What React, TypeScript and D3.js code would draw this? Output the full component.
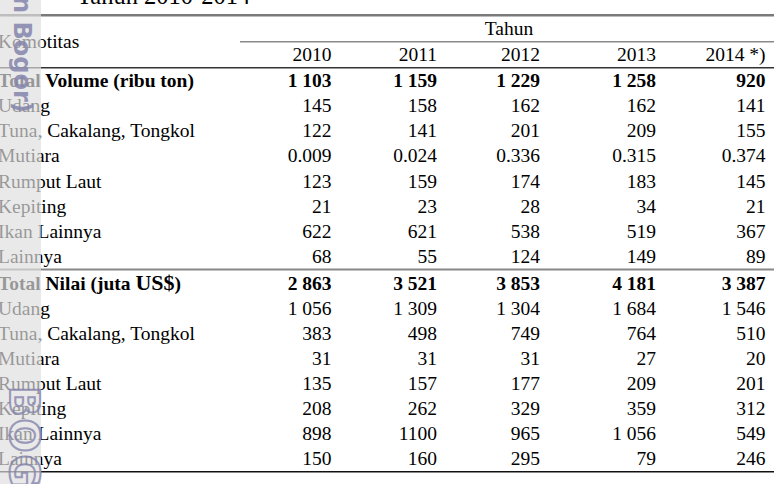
import React from "react";
import * as d3 from "d3";

const years = ["2010", "2011", "2012", "2013", "2014 *)"];
const commodities = ["Udang", "Tuna, Cakalang, Tongkol", "Mutiara", "Rumput Laut", "Kepiting", "Ikan Lainnya", "Lainnya"];

const totalVolume = [1103, 1159, 1229, 1258, 920];
const volUdang = [145, 158, 162, 162, 141];
const volTuna = [122, 141, 201, 209, 155];
const volMutiara = [0.009, 0.024, 0.336, 0.315, 0.374];
const volRumputLaut = [123, 159, 174, 183, 145];
const volKepiting = [21, 23, 28, 34, 21];
const volIkanLainnya = [622, 621, 538, 519, 367];
const volLainnya = [68, 55, 124, 149, 89];

const totalNilai = [2863, 3521, 3853, 4181, 3387];
const nilUdang = [1056, 1309, 1304, 1684, 1546];
const nilTuna = [383, 498, 749, 764, 510];
const nilMutiara = [31, 31, 31, 27, 20];
const nilRumputLaut = [135, 157, 177, 209, 201];
const nilKepiting = [208, 262, 329, 359, 312];
const nilIkanLainnya = [898, 1100, 965, 1056, 549];
const nilLainnya = [150, 160, 295, 79, 246];

// cells printed without thousands separator in the source
const ungroupedCells = ["nil-5-1"];

const W = 774;
const H = 484;
const FONT = "'Liberation Serif', 'Times New Roman', serif";
const FS = 19.5;

const locale = d3.formatLocale({ decimal: ".", thousands: " ", grouping: [3], currency: ["", ""] });
const fmtInt = locale.format(",d");
const fmtDec = d3.format(".3f");

function fmt(v: number, key: string) {
  if (!Number.isInteger(v)) return fmtDec(v);
  if (ungroupedCells.includes(key)) return String(v);
  return fmtInt(v);
}

export default function App() {
  const colX = d3.scaleOrdinal<string, number>().domain(years).range([331.5, 437, 540, 656, 765.5]);
  const volY = d3.scaleLinear().domain([0, 7]).range([87, 263]);
  const nilY = d3.scaleLinear().domain([0, 7]).range([290, 465]);

  const volRows = [volUdang, volTuna, volMutiara, volRumputLaut, volKepiting, volIkanLainnya, volLainnya];
  const nilRows = [nilUdang, nilTuna, nilMutiara, nilRumputLaut, nilKepiting, nilIkanLainnya, nilLainnya];

  const textX = -2;

  return (
    <svg width={W} height={H} style={{ position: "absolute", left: 0, top: 0, background: "#fff" }} fontFamily={FONT} fontSize={FS}>
      <rect x={0} y={0} width={W} height={H} fill="#fff" />
      {/* title (cut at top) */}
      <text x={77} y={4} fontSize={24.5}>Tahun 2010-2014</text>

      {/* rules */}
      <line x1={0} x2={W} y1={15.3} y2={15.3} stroke="#7a7a7a" strokeWidth={2.4} />
      <line x1={240} x2={W} y1={41.8} y2={41.8} stroke="#8a8a8a" strokeWidth={1.6} />
      <line x1={0} x2={W} y1={67.8} y2={67.8} stroke="#333" strokeWidth={1.4} />
      <line x1={0} x2={W} y1={269.4} y2={269.4} stroke="#888" strokeWidth={2} />
      <line x1={0} x2={W} y1={471.8} y2={471.8} stroke="#111" strokeWidth={1.6} />

      {/* header */}
      <text x={textX} y={48}>Komotitas</text>
      <text x={509} y={35} textAnchor="middle">Tahun</text>
      {years.map((yr) => (
        <text key={yr} x={colX(yr)} y={61} textAnchor="end">{yr}</text>
      ))}

      {/* volume block */}
      <text x={textX} y={volY(0)} fontWeight="bold">Total Volume (ribu ton)</text>
      {totalVolume.map((v, j) => (
        <text key={"tv" + j} x={colX(years[j])} y={volY(0)} textAnchor="end" fontWeight="bold">{fmt(v, "tv-" + j)}</text>
      ))}
      {commodities.map((c, i) => (
        <g key={"v" + c}>
          <text x={textX} y={volY(i + 1)}>{c}</text>
          {volRows[i].map((v, j) => (
            <text key={j} x={colX(years[j])} y={volY(i + 1)} textAnchor="end">{fmt(v, `vol-${i}-${j}`)}</text>
          ))}
        </g>
      ))}

      {/* value block */}
      <text x={textX} y={nilY(0)} fontWeight="bold">
        Total Nilai (juta <tspan fontSize={22}>US$</tspan>)
      </text>
      {totalNilai.map((v, j) => (
        <text key={"tn" + j} x={colX(years[j])} y={nilY(0)} textAnchor="end" fontWeight="bold">{fmt(v, "tn-" + j)}</text>
      ))}
      {commodities.map((c, i) => (
        <g key={"n" + c}>
          <text x={textX} y={nilY(i + 1)}>{c}</text>
          {nilRows[i].map((v, j) => (
            <text key={j} x={colX(years[j])} y={nilY(i + 1)} textAnchor="end">{fmt(v, `nil-${i}-${j}`)}</text>
          ))}
        </g>
      ))}

      {/* watermark strip */}
      <rect x={0} y={0} width={41} height={H} fill="rgb(223,223,223)" opacity={0.68} />
      <g fill="#8585ad" opacity={0.85} fontFamily="'DejaVu Sans', sans-serif" fontWeight="bold">
        <text transform="translate(14,-4) rotate(90)" fontSize={24}>n Bogor)</text>
      </g>
      <g fill="none" stroke="#8585ad" strokeWidth={2} opacity={0.8} fontFamily="'DejaVu Sans', sans-serif" fontWeight="bold">
        <text transform="translate(10,386) rotate(90)" fontSize={40} letterSpacing={2}>BOG</text>
      </g>
    </svg>
  );
}
